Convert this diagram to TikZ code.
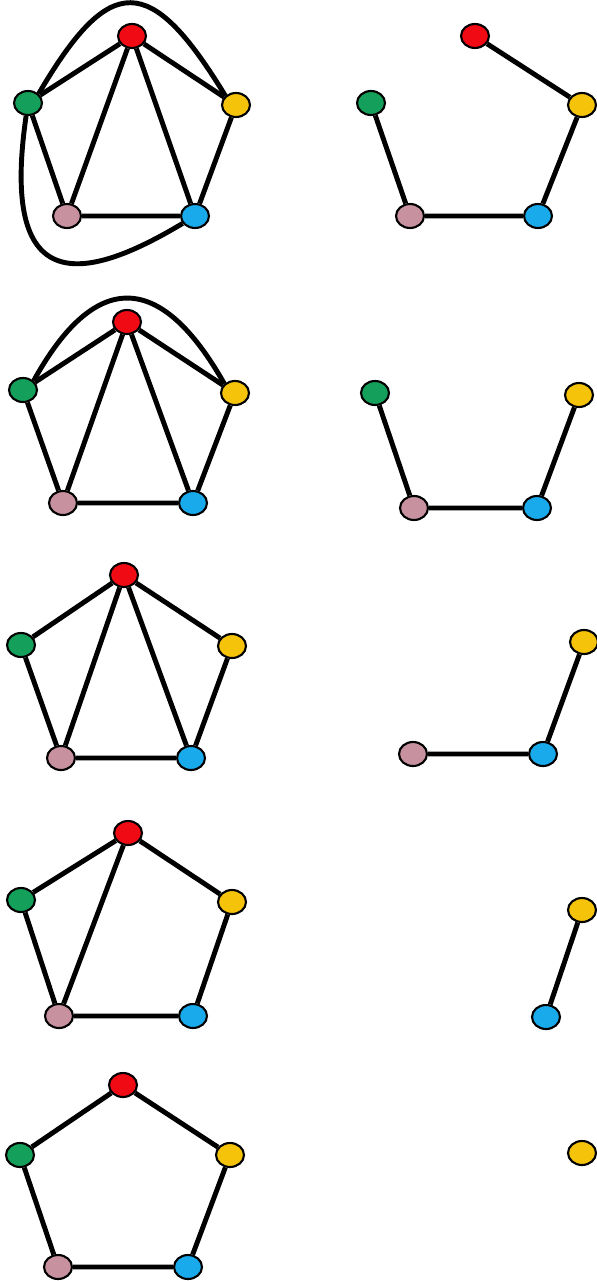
\documentclass[tikz,border=0pt]{standalone}
\usepackage{tikz}
\usetikzlibrary{shapes.geometric}

\definecolor{vred}{RGB}{240,10,20}
\definecolor{vgreen}{RGB}{20,160,90}
\definecolor{vyellow}{RGB}{245,195,10}
\definecolor{vpink}{RGB}{200,145,160}
\definecolor{vblue}{RGB}{25,170,235}

\begin{document}
\begin{tikzpicture}[x=0.02cm,y=-0.02cm,
  vtx/.style={ellipse,draw=black,line width=1.2pt,inner sep=0pt,
    minimum width=0.56cm,minimum height=0.48cm},
  edge/.style={line width=2.8pt}]
  \useasboundingbox (0,0) rectangle (596,1281);
  % row 1
  \node[vtx,fill=vred]    (ra1) at (132,36) {};
  \node[vtx,fill=vgreen]  (ga1) at (28,103) {};
  \node[vtx,fill=vyellow] (ya1) at (236,105) {};
  \node[vtx,fill=vpink]   (pa1) at (67,216) {};
  \node[vtx,fill=vblue]   (ba1) at (195,216) {};
  \draw[edge] (ra1)--(ga1) (ra1)--(ya1) (ra1)--(pa1) (ra1)--(ba1)
    (ga1)--(pa1) (ya1)--(ba1) (pa1)--(ba1);
  \draw[edge] (ga1.north east) .. controls (110,-28) and (150,-28) .. (ya1.north west);
  \draw[edge] (ga1) .. controls (0,295) and (80,285) .. (ba1);
  \node[vtx,fill=vred]    (rb1) at (475,36) {};
  \node[vtx,fill=vgreen]  (gb1) at (371,103) {};
  \node[vtx,fill=vyellow] (yb1) at (582,105) {};
  \node[vtx,fill=vpink]   (pb1) at (410,216) {};
  \node[vtx,fill=vblue]   (bb1) at (538,216) {};
  \draw[edge] (rb1)--(yb1) (yb1)--(bb1) (bb1)--(pb1) (pb1)--(gb1);
  % row 2
  \node[vtx,fill=vred]    (ra2) at (127,322) {};
  \node[vtx,fill=vgreen]  (ga2) at (23,390) {};
  \node[vtx,fill=vyellow] (ya2) at (235,393) {};
  \node[vtx,fill=vpink]   (pa2) at (63,503) {};
  \node[vtx,fill=vblue]   (ba2) at (193,503) {};
  \draw[edge] (ra2)--(ga2) (ra2)--(ya2) (ra2)--(pa2) (ra2)--(ba2)
    (ga2)--(pa2) (ya2)--(ba2) (pa2)--(ba2);
  \draw[edge] (ga2.north east) .. controls (95,270) and (160,270) .. (ya2.north west);
  \node[vtx,fill=vgreen]  (gb2) at (375,393) {};
  \node[vtx,fill=vyellow] (yb2) at (579,395) {};
  \node[vtx,fill=vpink]   (pb2) at (414,508) {};
  \node[vtx,fill=vblue]   (bb2) at (537,508) {};
  \draw[edge] (gb2)--(pb2) (pb2)--(bb2) (bb2)--(yb2);
  % row 3
  \node[vtx,fill=vred]    (ra3) at (124,575) {};
  \node[vtx,fill=vgreen]  (ga3) at (21,645) {};
  \node[vtx,fill=vyellow] (ya3) at (232,646) {};
  \node[vtx,fill=vpink]   (pa3) at (61,758) {};
  \node[vtx,fill=vblue]   (ba3) at (191,758) {};
  \draw[edge] (ra3)--(ga3) (ra3)--(ya3) (ra3)--(pa3) (ra3)--(ba3)
    (ga3)--(pa3) (ya3)--(ba3) (pa3)--(ba3);
  \node[vtx,fill=vyellow] (yb3) at (584,642) {};
  \node[vtx,fill=vpink]   (pb3) at (413,754) {};
  \node[vtx,fill=vblue]   (bb3) at (543,754) {};
  \draw[edge] (pb3)--(bb3) (bb3)--(yb3);
  % row 4
  \node[vtx,fill=vred]    (ra4) at (128,833) {};
  \node[vtx,fill=vgreen]  (ga4) at (21,900) {};
  \node[vtx,fill=vyellow] (ya4) at (232,902) {};
  \node[vtx,fill=vpink]   (pa4) at (59,1016) {};
  \node[vtx,fill=vblue]   (ba4) at (193,1016) {};
  \draw[edge] (ra4)--(ga4) (ra4)--(ya4) (ra4)--(pa4)
    (ga4)--(pa4) (ya4)--(ba4) (pa4)--(ba4);
  \node[vtx,fill=vyellow] (yb4) at (582,910) {};
  \node[vtx,fill=vblue]   (bb4) at (546,1017) {};
  \draw[edge] (bb4)--(yb4);
  % row 5
  \node[vtx,fill=vred]    (ra5) at (123,1085) {};
  \node[vtx,fill=vgreen]  (ga5) at (20,1155) {};
  \node[vtx,fill=vyellow] (ya5) at (230,1155) {};
  \node[vtx,fill=vpink]   (pa5) at (58,1267) {};
  \node[vtx,fill=vblue]   (ba5) at (188,1267) {};
  \draw[edge] (ra5)--(ga5) (ga5)--(pa5) (pa5)--(ba5) (ba5)--(ya5)
    (ya5)--(ra5);
  \node[vtx,fill=vyellow] (yb5) at (582,1153) {};
\end{tikzpicture}
\end{document}
